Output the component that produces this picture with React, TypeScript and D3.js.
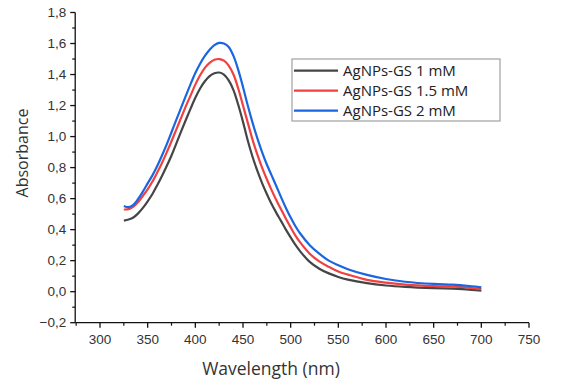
import React from "react";
import * as d3 from "d3";

const wavelengths = [325, 330, 335, 340, 345, 350, 355, 360, 365, 370, 375, 380, 385, 390, 395, 400, 405, 410, 415, 420, 425, 430, 435, 440, 445, 450, 455, 460, 465, 470, 475, 480, 485, 490, 495, 500, 505, 510, 520, 530, 540, 550, 560, 580, 600, 620, 650, 670, 680, 690, 700];

const gs1 = [0.458, 0.465, 0.478, 0.505, 0.54, 0.583, 0.63, 0.686, 0.746, 0.81, 0.878, 0.955, 1.032, 1.107, 1.18, 1.25, 1.31, 1.357, 1.39, 1.408, 1.413, 1.4, 1.362, 1.3, 1.205, 1.095, 0.975, 0.87, 0.78, 0.7, 0.63, 0.565, 0.508, 0.455, 0.4, 0.35, 0.302, 0.26, 0.192, 0.148, 0.118, 0.095, 0.078, 0.055, 0.04, 0.031, 0.023, 0.02, 0.017, 0.012, 0.006];

const gs15 = [0.53, 0.532, 0.548, 0.578, 0.618, 0.66, 0.71, 0.768, 0.83, 0.898, 0.97, 1.045, 1.12, 1.195, 1.265, 1.335, 1.395, 1.443, 1.475, 1.495, 1.5, 1.49, 1.458, 1.4, 1.31, 1.2, 1.09, 0.98, 0.885, 0.8, 0.725, 0.655, 0.59, 0.53, 0.47, 0.415, 0.362, 0.318, 0.245, 0.195, 0.16, 0.13, 0.11, 0.076, 0.058, 0.046, 0.036, 0.033, 0.03, 0.023, 0.017];

const gs2 = [0.553, 0.545, 0.56, 0.598, 0.645, 0.698, 0.75, 0.81, 0.878, 0.95, 1.028, 1.108, 1.185, 1.262, 1.338, 1.41, 1.47, 1.52, 1.56, 1.59, 1.604, 1.6, 1.578, 1.52, 1.43, 1.32, 1.2, 1.09, 0.99, 0.9, 0.82, 0.75, 0.68, 0.608, 0.54, 0.478, 0.422, 0.375, 0.3, 0.245, 0.2, 0.17, 0.145, 0.108, 0.082, 0.064, 0.05, 0.046, 0.041, 0.035, 0.028];

const seriesNames = ["AgNPs-GS 1 mM", "AgNPs-GS 1.5 mM", "AgNPs-GS 2 mM"];
const seriesColors = ["#454545", "#f04040", "#1a66e0"];

const xTicks = [300, 350, 400, 450, 500, 550, 600, 650, 700, 750];
const yTicks = [-0.2, 0, 0.2, 0.4, 0.6, 0.8, 1.0, 1.2, 1.4, 1.6, 1.8];

export default function App() {
  const W = 561, H = 391;
  const x = d3.scaleLinear().domain([300, 750]).range([100, 529]);
  const xStart = 274;
  const y = d3.scaleLinear().domain([-0.2, 1.8]).range([322.7, 12.5]);
  const all = [gs1, gs15, gs2];
  const line = d3
    .line<number>()
    .x((_, i) => x(wavelengths[i]))
    .y((d) => y(d))
    .curve(d3.curveCatmullRom.alpha(0.5));

  const xMinor = d3.range(275, 751, 25).filter((v) => v % 50 !== 0);
  const yMinor = d3.range(-0.1, 1.8, 0.2);
  const tickFont = "'Liberation Sans', Arial, sans-serif";
  const titleFont = "'Open Sans', sans-serif";
  const axisY = y(-0.2);
  const axisX = x(xStart);

  return (
    <svg width={W} height={H} style={{ position: "absolute", left: 0, top: 0 }}>
      <rect width={W} height={H} fill="#fff" />
      {all.map((s, i) => (
        <path key={i} d={line(s) || ""} fill="none" stroke={seriesColors[i]} strokeWidth={2.2} strokeLinejoin="round" />
      ))}
      {/* y axis */}
      <line x1={axisX} x2={axisX} y1={y(1.8)} y2={axisY} stroke="#111" strokeWidth={1.3} />
      {yTicks.map((t) => (
        <g key={t}>
          <line x1={axisX - 5} x2={axisX} y1={y(t)} y2={y(t)} stroke="#111" strokeWidth={1.3} />
          <text x={axisX - 9} y={y(t)} dy="0.35em" textAnchor="end" fontFamily={tickFont} fontSize={13.5} fill="#333">
            {t < 0 ? "\u2212" + Math.abs(t).toFixed(1).replace(".", ",") : t.toFixed(1).replace(".", ",")}
          </text>
        </g>
      ))}
      {yMinor.map((t) => (
        <line key={t} x1={axisX - 3} x2={axisX} y1={y(t)} y2={y(t)} stroke="#111" strokeWidth={1.2} />
      ))}
      {/* x axis */}
      <line x1={axisX} x2={x(750)} y1={axisY} y2={axisY} stroke="#111" strokeWidth={1.3} />
      {xTicks.map((t) => (
        <g key={t}>
          <line x1={x(t)} x2={x(t)} y1={axisY} y2={axisY + 5} stroke="#111" strokeWidth={1.3} />
          <text x={x(t)} y={axisY + 21} textAnchor="middle" fontFamily={tickFont} fontSize={13.5} fill="#333">
            {t}
          </text>
        </g>
      ))}
      {xMinor.map((t) => (
        <line key={t} x1={x(t)} x2={x(t)} y1={axisY} y2={axisY + 3} stroke="#111" strokeWidth={1.2} />
      ))}
      {/* titles */}
      <text x={271} y={375} textAnchor="middle" fontFamily={titleFont} fontSize={17.5} fill="#333">
        Wavelength (nm)
      </text>
      <text transform={`translate(28,153) rotate(-90)`} textAnchor="middle" fontFamily={titleFont} fontSize={16} fill="#333">
        Absorbance
      </text>
      {/* legend */}
      <rect x={292} y={59} width={208} height={62} fill="#fff" stroke="#a0a0a0" strokeWidth={1.2} />
      {seriesNames.map((n, i) => (
        <g key={n}>
          <line x1={294} x2={338} y1={70.7 + i * 20} y2={70.7 + i * 20} stroke={seriesColors[i]} strokeWidth={2.2} />
          <text x={343} y={70.7 + i * 20} dy="0.35em" fontFamily={titleFont} fontSize={15} fill="#222">
            {n}
          </text>
        </g>
      ))}
    </svg>
  );
}
